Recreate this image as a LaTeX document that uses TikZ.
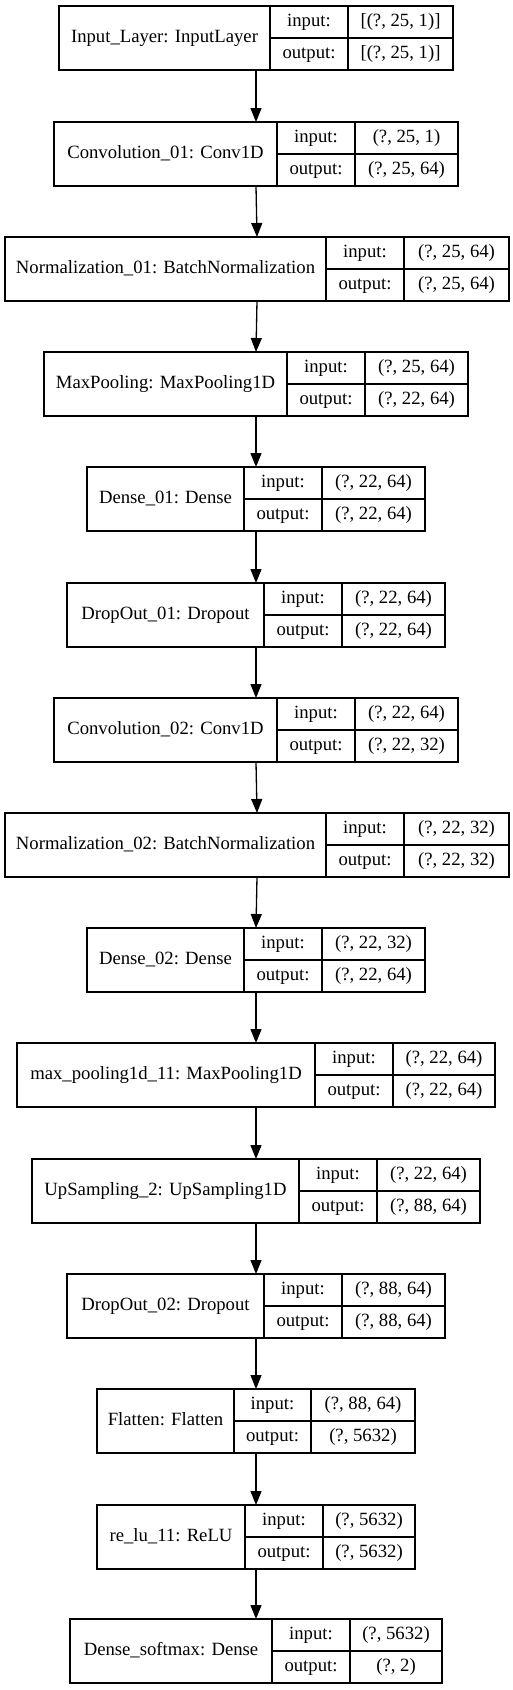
\documentclass[tikz,border=0pt]{standalone}
\usepackage{fontspec}
\setmainfont{Liberation Serif}
\usetikzlibrary{arrows.meta}
\tikzset{
  cellbox/.style={draw=black, line width=1.1pt, inner sep=0pt, outer sep=0pt,
    font=\fontsize{18.7}{22}\selectfont, text height=12.5pt, text depth=4pt, align=center},
  recbox/.style={draw=none, inner sep=0pt, outer sep=0pt, minimum height=64pt},
  conn/.style={line width=1.3pt, -{Triangle[length=14pt,width=11pt]}}
}
% #1 name, #2 top, #3 x1, #4 x2, #5 x3, #6 x4, #7 label, #8 in, #9 out
\newcommand{\klayer}[9]{%
  \node[recbox, minimum width={(#6-#3)*1pt}, anchor=north west] (#1) at (#3,#2) {};
  \node[cellbox, minimum width={(#4-#3)*1pt}, minimum height=64pt, anchor=north west] (#1-l) at (#3,#2) {#7};
  \node[cellbox, minimum width={(#5-#4)*1pt}, minimum height=32pt, anchor=north west] (#1-i) at (#4,#2) {input:};
  \node[cellbox, minimum width={(#5-#4)*1pt}, minimum height=32pt, anchor=north west] (#1-o) at (#4,#2+32) {output:};
  \node[cellbox, minimum width={(#6-#5)*1pt}, minimum height=32pt, anchor=north west] (#1-iv) at (#5,#2) {#8};
  \node[cellbox, minimum width={(#6-#5)*1pt}, minimum height=32pt, anchor=north west] (#1-ov) at (#5,#2+32) {#9};
}
\begin{document}
\begin{tikzpicture}[x=1pt,y=-1pt]
\useasboundingbox (0,0) rectangle (513,1690);
\klayer{inp}{6}{59}{270}{348}{453}{Input\_Layer: InputLayer}{[(?, 25, 1)]}{[(?, 25, 1)]}
\klayer{conv1}{122}{54}{277}{355}{458}{Convolution\_01: Conv1D}{(?, 25, 1)}{(?, 25, 64)}
\klayer{norm1}{237}{5}{326}{404}{509}{Normalization\_01: BatchNormalization}{(?, 25, 64)}{(?, 25, 64)}
\klayer{maxp}{352}{44}{287}{365}{468}{MaxPooling: MaxPooling1D}{(?, 25, 64)}{(?, 22, 64)}
\klayer{dense1}{467}{87}{244}{322}{425}{Dense\_01: Dense}{(?, 22, 64)}{(?, 22, 64)}
\klayer{drop1}{583}{67}{264}{342}{445}{DropOut\_01: Dropout}{(?, 22, 64)}{(?, 22, 64)}
\klayer{conv2}{698}{54}{277}{355}{458}{Convolution\_02: Conv1D}{(?, 22, 64)}{(?, 22, 32)}
\klayer{norm2}{813}{5}{326}{404}{509}{Normalization\_02: BatchNormalization}{(?, 22, 32)}{(?, 22, 32)}
\klayer{dense2}{928}{87}{244}{322}{425}{Dense\_02: Dense}{(?, 22, 32)}{(?, 22, 64)}
\klayer{mp11}{1043}{17}{315}{393}{495}{max\_pooling1d\_11: MaxPooling1D}{(?, 22, 64)}{(?, 22, 64)}
\klayer{up}{1159}{32}{299}{377}{480}{UpSampling\_2: UpSampling1D}{(?, 22, 64)}{(?, 88, 64)}
\klayer{drop2}{1274}{67}{264}{342}{445}{DropOut\_02: Dropout}{(?, 88, 64)}{(?, 88, 64)}
\klayer{flat}{1389}{97}{234}{311}{415}{Flatten: Flatten}{(?, 88, 64)}{(?, 5632)}
\klayer{relu}{1505}{97}{245}{323}{415}{re\_lu\_11: ReLU}{(?, 5632)}{(?, 5632)}
\klayer{dsoft}{1619}{70}{272}{350}{442}{Dense\_softmax: Dense}{(?, 5632)}{(?, 2)}
\foreach \a/\b in {inp/conv1,conv1/norm1,norm1/maxp,maxp/dense1,dense1/drop1,drop1/conv2,conv2/norm2,norm2/dense2,dense2/mp11,mp11/up,up/drop2,drop2/flat,flat/relu,relu/dsoft}
  \draw[conn] (\a.south) -- (\b.north);
\end{tikzpicture}
\end{document}
